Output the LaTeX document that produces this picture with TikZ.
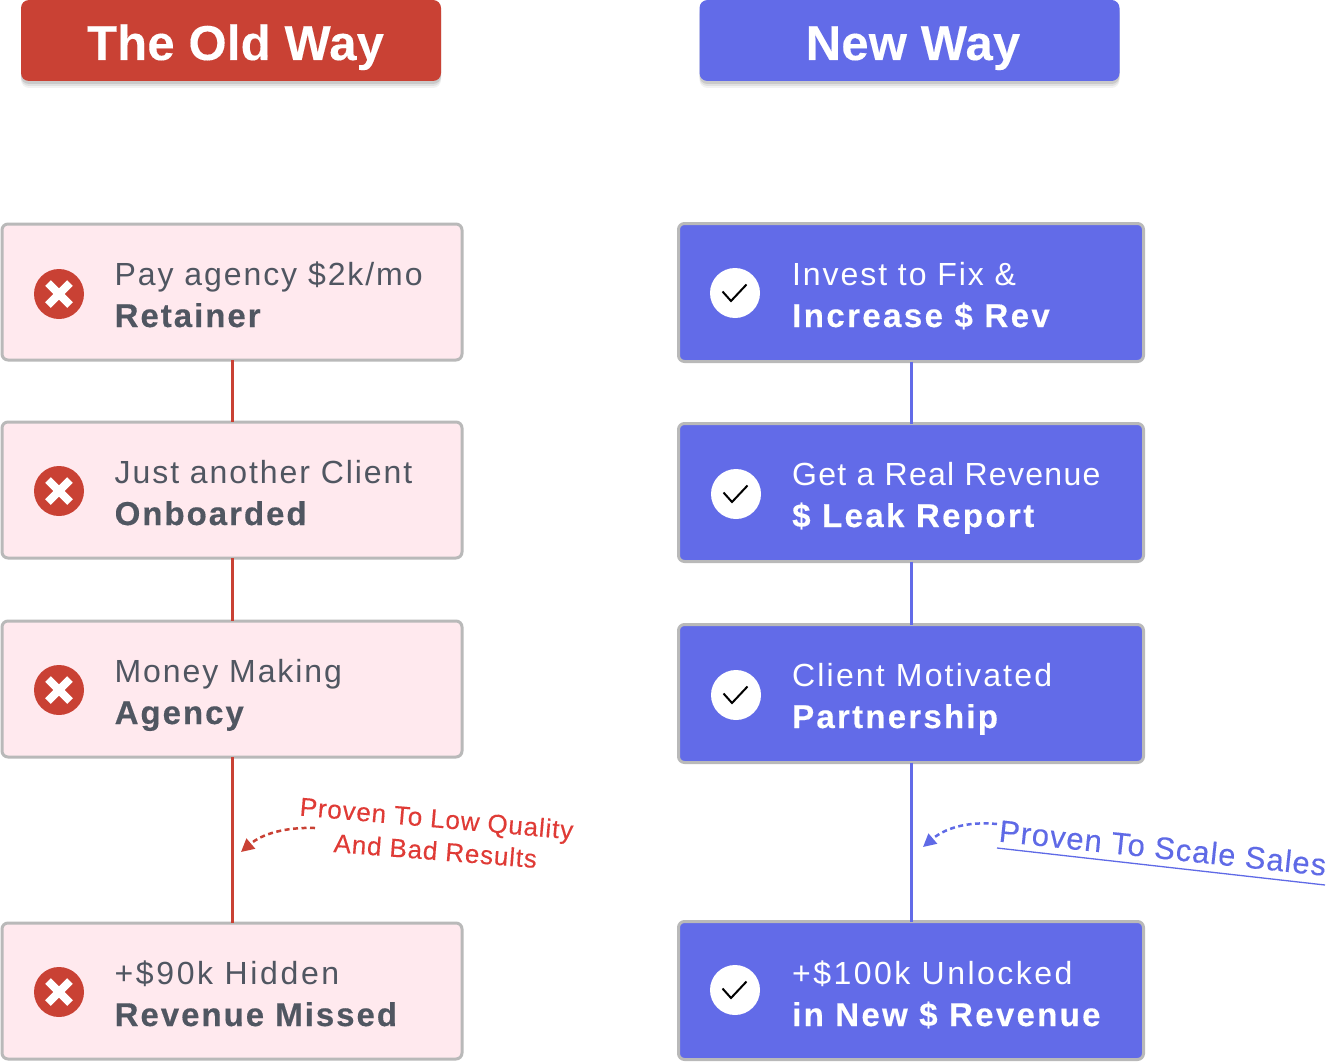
\documentclass[tikz,border=0pt]{standalone}
\usepackage{fontspec}
\setmainfont{Liberation Sans}
\newfontfamily\bodyfont[LetterSpace=6]{Liberation Sans}
\newfontfamily\strongfont[LetterSpace=6,WordSpace=1.0,FakeBold=0.35]{Liberation Sans Bold}
\newfontfamily\titlefont[FakeBold=0.2,LetterSpace=0.5]{Liberation Sans Bold}
\newfontfamily\notefont[LetterSpace=3.2,FakeBold=0.2]{Liberation Sans}
\usetikzlibrary{arrows.meta}
\definecolor{oldred}{HTML}{C94134}
\definecolor{newblue}{HTML}{626BE8}
\definecolor{edgegray}{HTML}{B9B9B9}
\definecolor{pinkfill}{HTML}{FFE9EE}
\definecolor{inkgray}{HTML}{505661}
\definecolor{noteRed}{HTML}{DF3B36}
\definecolor{noteBlue}{HTML}{5F6AE6}
\tikzset{
  x=1pt,y=-1pt,
  header/.style={draw=none,rounded corners=8pt,minimum width=420pt,minimum height=81pt,inner sep=0pt,outer sep=0pt,
    preaction={fill=black,opacity=.05,transform canvas={yshift=-7pt}},
    preaction={fill=black,opacity=.07,transform canvas={yshift=-5pt}},
    preaction={fill=black,opacity=.10,transform canvas={yshift=-3pt}}},
  headtext/.style={anchor=base,inner sep=0pt,text=white,font=\fontsize{49}{52}\selectfont\titlefont},
  oldcard/.style={draw=edgegray,line width=3pt,fill=pinkfill,rounded corners=6pt,minimum width=460pt,minimum height=136pt,inner sep=0pt,outer sep=0pt},
  newcard/.style={draw=edgegray,line width=3pt,fill=newblue,rounded corners=6pt,minimum width=465pt,minimum height=138pt,inner sep=0pt,outer sep=0pt},
  lineone/.style={anchor=base west,inner sep=0pt,font=\fontsize{32}{36}\selectfont\bodyfont},
  linetwo/.style={anchor=base west,inner sep=0pt,font=\fontsize{33}{36}\selectfont\strongfont},
  oldlink/.style={draw=oldred,line width=3pt},
  newlink/.style={draw=newblue,line width=3pt},
  badicon/.style={circle,fill=oldred,minimum size=50pt,inner sep=0pt},
  goodicon/.style={circle,fill=white,minimum size=50pt,inner sep=0pt},
  crossbar/.style={draw=white,line width=8pt},
  tick/.style={draw=black,line width=2pt},
  notecurve/.style={dash pattern=on 5pt off 3.5pt,line width=2.5pt,-{Triangle[length=13pt,width=13pt,sep=0pt]}},
  note/.style={inner sep=0pt,anchor=base west,font=\fontsize{26}{28}\selectfont\notefont}
}
\newcommand{\xmark}[1]{%
  \draw[crossbar] ([shift={(-11,-11)}]#1.center) -- ([shift={(11,11)}]#1.center);
  \draw[crossbar] ([shift={(11,-11)}]#1.center) -- ([shift={(-11,11)}]#1.center);}
\newcommand{\vmark}[1]{%
  \draw[tick] ([shift={(-12.5,-1.5)}]#1.center) -- ([shift={(-4,8)}]#1.center) -- ([shift={(11.5,-8.5)}]#1.center);}
\newcommand{\spaced}[1]{\addfontfeatures{LetterSpace=#1}}
\begin{document}
\begin{tikzpicture}
\useasboundingbox (0,0) rectangle (1332,1062);
% headers
\node[header,fill=oldred] (oldhead) at (231,40.5) {};
\node[header,fill=newblue] (newhead) at (909.5,40.5) {};
\node[headtext] (oldtitle) at (235.5,60) {The Old Way};
\node[headtext] (newtitle) at (913,60) {New Way};
% old cards
\node[oldcard] (o1) at (232,292) {};
\node[oldcard] (o2) at (232,490) {};
\node[oldcard] (o3) at (232,689) {};
\node[oldcard] (o4) at (232,991) {};
\draw[oldlink] (o1.south) -- (o2.north);
\draw[oldlink] (o2.south) -- (o3.north);
\draw[oldlink] (o3.south) -- (o4.north);
% new cards
\node[newcard] (n1) at (911,292.5) {};
\node[newcard] (n2) at (911,492.5) {};
\node[newcard] (n3) at (911,693.5) {};
\node[newcard] (n4) at (911,990.5) {};
\draw[newlink] (n1.south) -- (n2.north);
\draw[newlink] (n2.south) -- (n3.north);
\draw[newlink] (n3.south) -- (n4.north);
% old icons
\node[badicon] (ob1) at (59,294) {}; \xmark{ob1}
\node[badicon] (ob2) at (59,491) {}; \xmark{ob2}
\node[badicon] (ob3) at (59,690) {}; \xmark{ob3}
\node[badicon] (ob4) at (59,992) {}; \xmark{ob4}
% new icons
\node[goodicon] (ng1) at (735,293) {}; \vmark{ng1}
\node[goodicon] (ng2) at (736,494) {}; \vmark{ng2}
\node[goodicon] (ng3) at (736,695) {}; \vmark{ng3}
\node[goodicon] (ng4) at (735,990) {}; \vmark{ng4}
% old text
\node[lineone,text=inkgray] (ot1a) at (114.5,285) {Pay agency \$2k/mo};
\node[linetwo,text=inkgray] (ot1b) at (114.5,327) {Retainer};
\node[lineone,text=inkgray] (ot2a) at (114.5,483) {Just another Client};
\node[linetwo,text=inkgray] (ot2b) at (114.5,525) {Onboarded};
\node[lineone,text=inkgray] (ot3a) at (114.5,682) {Money Making};
\node[linetwo,text=inkgray] (ot3b) at (114.5,724) {Agency};
\node[lineone,text=inkgray] (ot4a) at (114.5,984) {\spaced{8.2}+\$90k Hidden};
\node[linetwo,text=inkgray] (ot4b) at (114.5,1026) {Revenue Missed};
% new text
\node[lineone,text=white] (nt1a) at (792,285) {Invest to Fix \&};
\node[linetwo,text=white] (nt1b) at (792,327) {\spaced{7.3}Increase \$ Rev};
\node[lineone,text=white] (nt2a) at (792,485) {\spaced{4.1}Get a Real Revenue};
\node[linetwo,text=white] (nt2b) at (792,527) {\spaced{7.2}\$ Leak Report};
\node[lineone,text=white] (nt3a) at (792,686) {\spaced{6.8}Client Motivated};
\node[linetwo,text=white] (nt3b) at (792,728) {\spaced{6.8}Partnership};
\node[lineone,text=white] (nt4a) at (792,984) {\spaced{7.7}+\$100k Unlocked};
\node[linetwo,text=white] (nt4b) at (792,1026) {\spaced{7}in New \$ Revenue};
% notes
\node[note,text=noteRed,rotate=-5] (redA) at (299,815.5) {Proven To Low Quality};
\node[note,text=noteRed,rotate=-4.5] (redB) at (333,852) {And Bad Results};
\coordinate (redStart) at (315,828);
\coordinate (redEnd) at (241,852);
\draw[notecurve,draw=oldred] (redStart) .. controls (285,827) and (262,834) .. (redEnd);
\node[note,text=noteBlue,rotate=-6,font=\fontsize{31}{33}\selectfont\notefont] (blueA) at (998,841.5) {Proven To Scale Sales};
\coordinate (ulStart) at (997,848);
\coordinate (ulEnd) at (1325,885);
\draw[draw=noteBlue,line width=1.3pt] (ulStart) -- (ulEnd);
\coordinate (blueStart) at (997,824);
\coordinate (blueEnd) at (923,847);
\draw[notecurve,draw=noteBlue] (blueStart) .. controls (966,821) and (944,829) .. (blueEnd);
\end{tikzpicture}
\end{document}
